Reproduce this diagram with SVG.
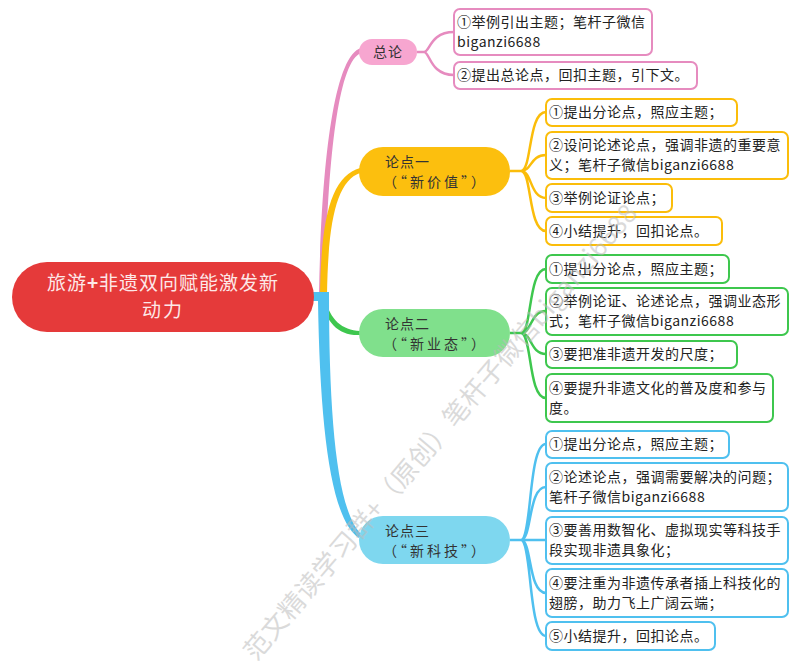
<svg xmlns="http://www.w3.org/2000/svg" width="800" height="662" viewBox="0 0 800 662">
<style>
text{font-family:"Noto Sans CJK SC","Noto Sans",sans-serif;}
.leaf{fill:#fff;stroke-width:2;}
.lt{font-size:14px;fill:#222;letter-spacing:0.5px;}
.nt{font-size:14px;fill:#333;letter-spacing:1px;}
.nt2{font-size:14px;fill:#333;letter-spacing:3px;}
.p{stroke:#e68bbf;}
.y{stroke:#fbbd0a;}
.g{stroke:#3ec74e;}
.b{stroke:#4fc0ef;}
.ln{fill:none;stroke-width:2.5;}
.wm{font-size:26px;fill:#bdbdbd;opacity:0.55;}
</style>
<rect width="800" height="662" fill="#fff"/>

<g id="connectors">
  <path d="M319,296 C321,170 333,56 361,48 L361,53 C337,62 327,170 325,296 Z" fill="#e68bbf"/>
  <path d="M320,296 C321,215 332,176 360,168 L360,173 C337,181 328,220 327,296 Z" fill="#fbbd0a"/>
  <path d="M325,298 C330,320 342,330 360,331 L360,335 C338,336 326,322 322,300 Z" fill="#3ec74e"/>
  <path d="M318,293 L329,293 C329,420 337,510 361,534 L359,538 C331,520 320,430 318,301 Z" fill="#4fc0ef"/>
  <rect x="310" y="292" width="19" height="9" fill="#4fc0ef"/>
  <path class="ln p" d="M417,52 L424,52 C430,52 430,32 454,32 M424,52 C430,52 430,75 454,75"/>
  <path class="ln y" d="M510,171 L521,171 C532,171 528,112 546,112 M521,171 C532,171 530,155 546,155 M521,171 C532,171 530,198 546,198 M521,171 C532,171 528,231 546,231"/>
  <path class="ln g" d="M510,333 L521,333 C532,333 528,269 546,269 M521,333 C532,333 530,311 546,311 M521,333 C532,333 530,354 546,354 M521,333 C532,333 528,398 546,398"/>
  <path class="ln b" d="M510,540 L521,540 C532,540 528,444 546,444 M521,540 C532,540 528,487 546,487 M521,540 L546,540 M521,540 C532,540 528,593 546,593 M521,540 C532,540 528,636 546,636"/>
</g>

<g id="root">
  <rect x="12" y="262" width="302" height="70" rx="35" fill="#e53a3a"/>
  <text x="163" y="290" text-anchor="middle" font-size="19" fill="#fde8e8" letter-spacing="1">旅游<tspan font-weight="bold">+</tspan>非遗双向赋能激发新</text>
  <text x="163" y="317" text-anchor="middle" font-size="19" fill="#fde8e8" letter-spacing="2">动力</text>
</g>

<g id="n0">
  <rect x="359" y="39" width="58" height="26" rx="13" fill="#f7a6d0"/>
  <text class="nt" x="388" y="57" text-anchor="middle">总论</text>
</g>
<g id="n0a">
  <rect class="leaf p" x="454" y="9" width="198" height="46" rx="6"/>
  <text class="lt" x="457" y="27">①举例引出主题；笔杆子微信</text>
  <text class="lt" x="457" y="47">biganzi6688</text>
</g>
<g id="n0b">
  <rect class="leaf p" x="454" y="62" width="243" height="27" rx="6"/>
  <text class="lt" x="457" y="80">②提出总论点，回扣主题，引下文。</text>
</g>

<g id="n1">
  <rect x="359" y="147" width="151" height="49" rx="24" fill="#fcbf0e"/>
  <text class="nt" x="385" y="167">论点一</text>
  <text class="nt2" x="383" y="187">（“新价值”）</text>
</g>
<g id="n1a">
  <rect class="leaf y" x="546" y="99" width="191" height="27" rx="6"/>
  <text class="lt" x="549" y="117">①提出分论点，照应主题；</text>
</g>
<g id="n1b">
  <rect class="leaf y" x="546" y="132" width="242" height="47" rx="6"/>
  <text class="lt" x="549" y="150">②设问论述论点，强调非遗的重要意</text>
  <text class="lt" x="549" y="170">义；笔杆子微信biganzi6688</text>
</g>
<g id="n1c">
  <rect class="leaf y" x="546" y="184" width="126" height="28" rx="6"/>
  <text class="lt" x="549" y="203">③举例论证论点；</text>
</g>
<g id="n1d">
  <rect class="leaf y" x="546" y="217" width="176" height="28" rx="6"/>
  <text class="lt" x="549" y="236">④小结提升，回扣论点。</text>
</g>

<g id="n2">
  <rect x="359" y="309" width="151" height="48" rx="24" fill="#80e08c"/>
  <text class="nt" x="385" y="329">论点二</text>
  <text class="nt2" x="383" y="349">（“新业态”）</text>
</g>
<g id="n2a">
  <rect class="leaf g" x="546" y="255" width="183" height="28" rx="6"/>
  <text class="lt" x="549" y="274">①提出分论点，照应主题；</text>
</g>
<g id="n2b">
  <rect class="leaf g" x="546" y="288" width="242" height="47" rx="6"/>
  <text class="lt" x="549" y="306">②举例论证、论述论点，强调业态形</text>
  <text class="lt" x="549" y="326">式；笔杆子微信biganzi6688</text>
</g>
<g id="n2c">
  <rect class="leaf g" x="546" y="341" width="191" height="27" rx="6"/>
  <text class="lt" x="549" y="359">③要把准非遗开发的尺度；</text>
</g>
<g id="n2d">
  <rect class="leaf g" x="546" y="374" width="227" height="48" rx="6"/>
  <text class="lt" x="549" y="393">④要提升非遗文化的普及度和参与</text>
  <text class="lt" x="549" y="413">度。</text>
</g>

<g id="n3">
  <rect x="359" y="516" width="151" height="48" rx="24" fill="#7ed7ef"/>
  <text class="nt" x="385" y="536">论点三</text>
  <text class="nt2" x="383" y="556">（“新科技”）</text>
</g>
<g id="n3a">
  <rect class="leaf b" x="546" y="431" width="183" height="27" rx="6"/>
  <text class="lt" x="549" y="449">①提出分论点，照应主题；</text>
</g>
<g id="n3b">
  <rect class="leaf b" x="546" y="463" width="242" height="48" rx="6"/>
  <text class="lt" x="549" y="482">②论述论点，强调需要解决的问题；</text>
  <text class="lt" x="549" y="502">笔杆子微信biganzi6688</text>
</g>
<g id="n3c">
  <rect class="leaf b" x="546" y="517" width="242" height="47" rx="6"/>
  <text class="lt" x="549" y="535">③要善用数智化、虚拟现实等科技手</text>
  <text class="lt" x="549" y="555">段实现非遗具象化；</text>
</g>
<g id="n3d">
  <rect class="leaf b" x="546" y="569" width="242" height="48" rx="6"/>
  <text class="lt" x="549" y="588">④要注重为非遗传承者插上科技化的</text>
  <text class="lt" x="549" y="608">翅膀，助力飞上广阔云端；</text>
</g>
<g id="n3e">
  <rect class="leaf b" x="546" y="622" width="169" height="28" rx="6"/>
  <text class="lt" x="549" y="641">⑤小结提升，回扣论点。</text>
</g>

<g id="watermark">
  <text class="wm" transform="translate(256,662) rotate(-49.5)" letter-spacing="0.5">范文精读学习群+（原创）笔杆子微信biganzi6688</text>
</g>
</svg>
